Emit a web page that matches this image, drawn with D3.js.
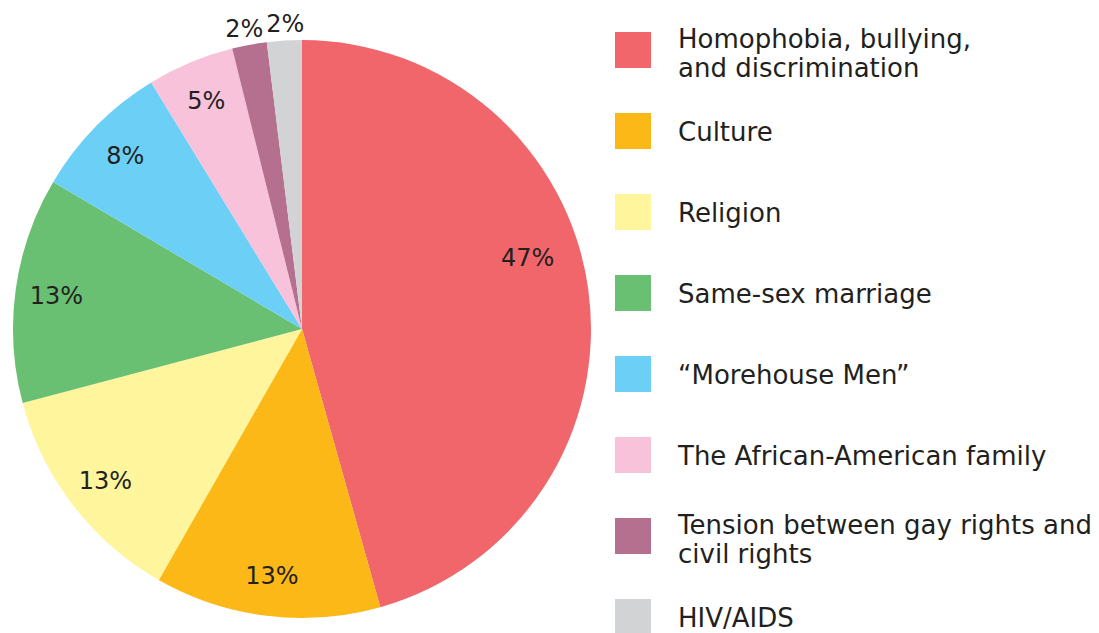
<!DOCTYPE html>
<html>
<head>
<meta charset="utf-8">
<script src="https://cdn.jsdelivr.net/npm/d3@7"></script>
<style>
  body { margin: 0; background: #fff; }
  text { font-family: "DejaVu Sans", sans-serif; fill: #231f20; }
</style>
</head>
<body>
<div id="chart"></div>
<script>
// Datos del gráfico
const categories = [
    ['Homophobia, bullying,', 'and discrimination'],
    ['Culture'],
    ['Religion'],
    ['Same-sex marriage'],
    ['\u201cMorehouse Men\u201d'],
    ['The African-American family'],
    ['Tension between gay rights and', 'civil rights'],
    ['HIV/AIDS']
];
const values = [47, 13, 13, 13, 8, 5, 2, 2];
const valueLabels = ['47%', '13%', '13%', '13%', '8%', '5%', '2%', '2%'];
const colors = ['#f1666b', '#fbb817', '#fff59c', '#69c073', '#6bcff6', '#f7c2da', '#b5708f', '#d1d3d4'];

const width = 1099, height = 633;
const cx = 302, cy = 329, radius = 289;

const svg = d3.select('#chart').append('svg')
    .attr('width', width)
    .attr('height', height);

const pie = d3.pie().sort(null).value(d => d);
const arcs = pie(values);
const arc = d3.arc().innerRadius(0).outerRadius(radius);

const g = svg.append('g').attr('transform', `translate(${cx},${cy})`);

// Sectores
g.selectAll('path')
    .data(arcs)
    .enter().append('path')
    .attr('d', arc)
    .attr('fill', (d, i) => colors[i]);

// Etiquetas: las pequeñas van por fuera del círculo
const innerLabel = d3.arc().innerRadius(248).outerRadius(248);
const outerLabel = d3.arc().innerRadius(306).outerRadius(306);
g.selectAll('.pct')
    .data(arcs)
    .enter().append('text')
    .attr('class', 'pct')
    .attr('transform', (d, i) => {
        let p;
        if (i === 0) {
            // la etiqueta grande está algo más arriba que el centroide
            const a = d.startAngle + (d.endAngle - d.startAngle) * 0.44;
            p = [Math.sin(a) * 237, -Math.cos(a) * 237];
        } else if ((d.endAngle - d.startAngle) < 0.2) {
            p = outerLabel.centroid(d);
            p[0] += i === 6 ? -2 : 2; // separar un poco las dos del 2%
        } else {
            p = innerLabel.centroid(d);
        }
        return `translate(${p[0]},${p[1]})`;
    })
    .attr('text-anchor', 'middle')
    .attr('dy', '0.36em')
    .attr('font-size', 24)
    .text((d, i) => valueLabels[i]);

// Leyenda
const legendY = d3.scaleBand()
    .domain(d3.range(categories.length))
    .range([32, 32 + 81 * categories.length])
    .paddingInner(0);

const legend = svg.append('g');
const items = legend.selectAll('g')
    .data(categories)
    .enter().append('g')
    .attr('transform', (d, i) => `translate(615,${legendY(i)})`);

items.append('rect')
    .attr('width', 36)
    .attr('height', 36)
    .attr('fill', (d, i) => colors[i]);

items.each(function (lines) {
    const t = d3.select(this).append('text')
        .attr('font-size', 26)
        .attr('x', 63);
    lines.forEach((line, j) => {
        const base = lines.length === 1 ? 28 : 16;
        t.append('tspan')
            .attr('x', 63)
            .attr('y', base + j * 29)
            .text(line);
    });
});
</script>
</body>
</html>
